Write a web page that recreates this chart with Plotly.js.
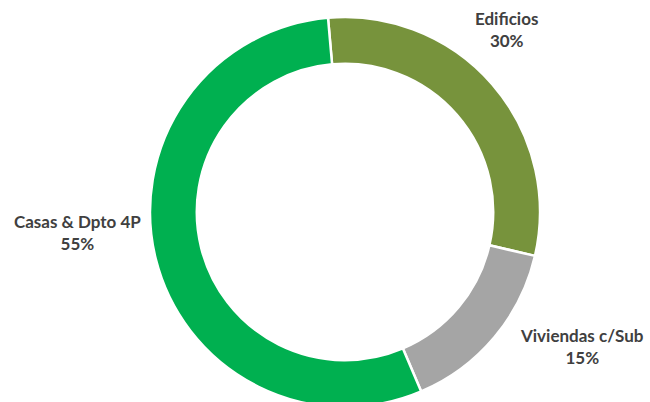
<!DOCTYPE html>
<html>
<head>
<meta charset="utf-8">
<script src="https://cdn.plot.ly/plotly-3.0.1.min.js"></script>
<style>
html,body{margin:0;padding:0;overflow:hidden;background:#fff;}
#chart{width:650px;height:420px;}
</style>
</head>
<body>
<div id="chart"></div>
<script>
const categories = ["Edificios", "Viviendas c/Sub", "Casas & Dpto 4P"];
const shares = [30, 15, 55];
const colors = ["#77933C", "#A5A5A5", "#00B050"];

const W = 650, H = 420;
const cx = 345, cy = 212, R = 195;
const labelPos = [[506, 30], [582, 346], [77, 232]];

const trace = {
  type: "pie",
  labels: categories,
  values: shares,
  sort: false,
  direction: "clockwise",
  rotation: -5,
  hole: 0.76,
  textinfo: "none",
  hoverinfo: "label+percent",
  marker: {colors: colors, line: {color: "#ffffff", width: 2.5}},
  domain: {x: [(cx - R) / W, (cx + R) / W], y: [(H - cy - R) / H, (H - cy + R) / H]},
  showlegend: false
};

const annotations = categories.map((c, i) => ({
  text: "<b>" + c + "</b><br><b>" + shares[i] + "%</b>",
  xref: "paper", yref: "paper",
  x: labelPos[i][0] / W, y: (H - labelPos[i][1]) / H,
  xanchor: "center", yanchor: "middle",
  showarrow: false, align: "center",
  font: {family: "Lato, 'Open Sans', sans-serif", size: 17, color: "#404040"}
}));

const layout = {
  width: W, height: H,
  margin: {l: 0, r: 0, t: 0, b: 0},
  paper_bgcolor: "#ffffff",
  plot_bgcolor: "#ffffff",
  annotations: annotations,
  showlegend: false
};

Plotly.newPlot("chart", [trace], layout, {displayModeBar: false, staticPlot: true});
</script>
</body>
</html>
